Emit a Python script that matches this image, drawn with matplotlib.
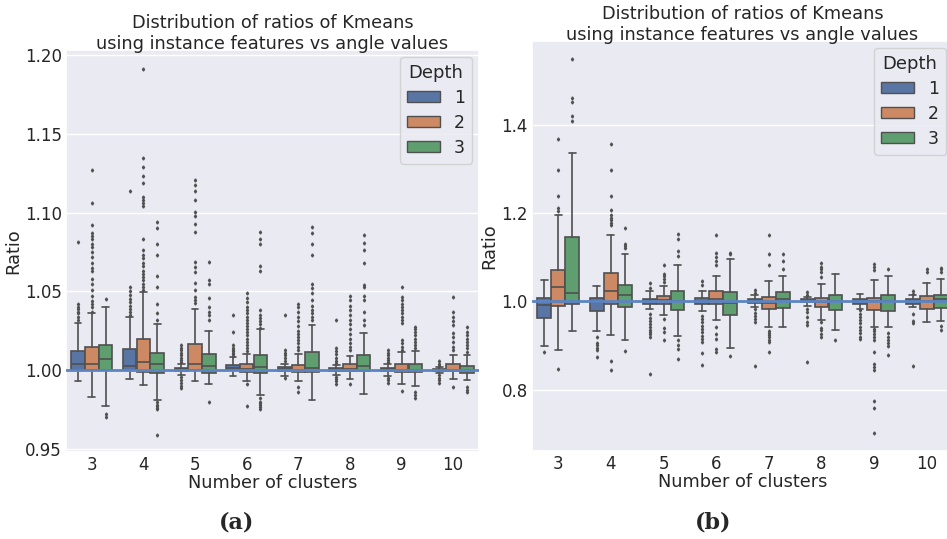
import matplotlib
matplotlib.use("Agg")
import matplotlib.pyplot as plt
from matplotlib.patches import Patch
import seaborn as sns

sns.set_theme(style="darkgrid")
plt.rcParams['font.family'] = ['DejaVu Sans']

clusters = [3, 4, 5, 6, 7, 8, 9, 10]
depths = [1, 2, 3]
colors = ['#5975a4', '#cc8963', '#5f9e6e']
line_col = '#505050'

# ---- panel (a): box statistics per cluster count, one entry per depth
a_q1 = [[1.000, 1.000, 1.000], [1.000, 0.999, 0.9983], [0.9993, 1.000, 0.998],
        [1.000, 0.999, 0.998], [0.9994, 0.9985, 0.9987], [0.9992, 0.9994, 0.9994],
        [0.9994, 0.9989, 0.9985], [0.9994, 0.9992, 0.998]]
a_med = [[1.004, 1.004, 1.0072], [1.0023, 1.0049, 1.004], [1.0005, 1.0038, 1.0023],
         [1.0013, 1.001, 1.0017], [1.0005, 1.0002, 1.0015], [1.000, 1.0004, 1.0028],
         [1.0004, 1.000, 1.0002], [1.000, 1.000, 1.0003]]
a_q3 = [[1.0123, 1.0148, 1.016], [1.0134, 1.020, 1.011], [1.0015, 1.0163, 1.0104],
        [1.003, 1.0042, 1.0093], [1.0017, 1.003, 1.0116], [1.0011, 1.0036, 1.0093],
        [1.0013, 1.0042, 1.0038], [1.0008, 1.0036, 1.0025]]
a_lo = [[0.993, 0.983, 0.977], [0.9943, 0.9903, 0.981], [0.9968, 0.9934, 0.991],
        [0.996, 0.9934, 0.9843], [0.9962, 0.993, 0.981], [0.9968, 0.9945, 0.9846],
        [0.9962, 0.9915, 0.9902], [0.998, 0.9945, 0.9937]]
a_hi = [[1.030, 1.036, 1.040], [1.0335, 1.0497, 1.0294], [1.004, 1.039, 1.0248],
        [1.0081, 1.010, 1.0258], [1.0042, 1.010, 1.0286], [1.0032, 1.009, 1.0233],
        [1.0038, 1.0117, 1.0123], [1.0021, 1.0095, 1.0095]]
a_fliers = [
    [[1.032, 1.034, 1.036, 1.037, 1.039, 1.040, 1.042, 1.0815],
     [1.037, 1.040, 1.042, 1.044, 1.047, 1.051, 1.055, 1.058, 1.063, 1.065, 1.068,
      1.072, 1.075, 1.078, 1.080, 1.083, 1.085, 1.087, 1.092, 1.106, 1.127],
     [0.970, 0.972, 1.045]],
    [[1.035, 1.037, 1.039, 1.041, 1.043, 1.045, 1.048, 1.050, 1.053, 1.114],
     [1.051, 1.053, 1.055, 1.057, 1.059, 1.061, 1.063, 1.066, 1.068, 1.071, 1.073,
      1.076, 1.083, 1.104, 1.106, 1.108, 1.110, 1.119, 1.123, 1.129, 1.135, 1.191],
     [0.959, 0.975, 0.976, 0.977, 0.978, 0.980, 1.032, 1.036, 1.042, 1.0525, 1.060,
      1.073, 1.080, 1.090, 1.094]],
    [[0.9886, 0.990, 0.992, 0.994, 0.9955, 1.005, 1.0065, 1.008, 1.0095, 1.011,
      1.0125, 1.014, 1.016],
     [1.0424, 1.0445, 1.0466, 1.0508, 1.0555, 1.0625, 1.0656, 1.0688, 1.0879, 1.0928,
      1.098, 1.1006, 1.108, 1.114, 1.1175, 1.1207],
     [0.9795, 1.032, 1.035, 1.037, 1.040, 1.046, 1.055, 1.057, 1.0688]],
    [[1.009, 1.010, 1.011, 1.012, 1.013, 1.014, 1.016, 1.024, 1.035],
     [0.977, 0.9915, 1.012, 1.014, 1.016, 1.018, 1.020, 1.022, 1.024, 1.026, 1.028,
      1.030, 1.032, 1.034, 1.036, 1.038, 1.040, 1.043, 1.046, 1.049],
     [0.975, 0.9765, 0.978, 0.979, 0.980, 0.982, 1.027, 1.029, 1.031, 1.033, 1.035,
      1.038, 1.063, 1.066, 1.080, 1.083, 1.088]],
    [[0.995, 1.006, 1.008, 1.0095, 1.011, 1.0127, 1.035],
     [0.986, 0.989, 1.0127, 1.015, 1.017, 1.019, 1.021, 1.023, 1.025, 1.028, 1.031,
      1.034, 1.037, 1.040, 1.042],
     [1.032, 1.034, 1.036, 1.038, 1.041, 1.0445, 1.049, 1.052, 1.055, 1.073, 1.080,
      1.087, 1.091]],
    [[0.9915, 0.993, 0.9945, 0.9958, 1.0045, 1.006, 1.008, 1.010, 1.012, 1.014, 1.032],
     [0.991, 1.0127, 1.015, 1.017, 1.020, 1.023, 1.026, 1.029, 1.032, 1.035, 1.038,
      1.041, 1.0445, 1.047],
     [1.0286, 1.032, 1.0367, 1.0445, 1.047, 1.0525, 1.054, 1.068, 1.076, 1.081, 1.086]],
    [[0.992, 0.9935, 0.995, 1.005, 1.0065, 1.008, 1.0095, 1.011, 1.0127],
     [0.9867, 1.0127, 1.015, 1.017, 1.019, 1.030, 1.032, 1.034, 1.036, 1.038, 1.040,
      1.042, 1.0445, 1.0466, 1.053],
     [0.982, 0.984, 0.986, 1.014, 1.016, 1.018, 1.020, 1.022, 1.024, 1.026, 1.0275]],
    [[0.992, 0.9935, 0.995, 0.997, 1.0025, 1.004, 1.006],
     [0.9894, 1.0127, 1.015, 1.018, 1.021, 1.0233, 1.0286, 1.031, 1.034, 1.037, 1.0466],
     [0.986, 0.9875, 0.989, 1.0117, 1.014, 1.016, 1.018, 1.020, 1.022, 1.0245, 1.0275]],
]

# ---- panel (b)
b_q1 = [[0.963, 0.9894, 0.9947], [0.9774, 0.993, 0.9864], [0.9947, 0.9932, 0.981],
        [0.994, 0.9947, 0.969], [0.997, 0.9826, 0.9857], [0.9977, 0.9864, 0.980],
        [0.994, 0.9796, 0.979], [0.9947, 0.9834, 0.9857]]
b_med = [[0.9925, 1.0325, 1.0197], [0.9977, 1.0226, 1.013], [1.002, 1.0038, 1.0007],
         [1.0015, 1.0045, 0.9955], [1.000, 0.997, 1.0045], [1.000, 0.9977, 1.000],
         [1.000, 1.000, 1.000], [1.000, 1.000, 1.0045]]
b_q3 = [[1.0068, 1.0717, 1.1456], [1.0083, 1.064, 1.036], [1.006, 1.012, 1.024],
        [1.0083, 1.024, 1.022], [1.005, 1.0098, 1.021], [1.0045, 1.0083, 1.013],
        [1.004, 1.0083, 1.014], [1.0045, 1.012, 1.0136]]
b_lo = [[0.899, 0.889, 0.933], [0.932, 0.924, 0.913], [0.982, 0.969, 0.921],
        [0.979, 0.958, 0.894], [0.9864, 0.941, 0.941], [0.9887, 0.957, 0.936],
        [0.9826, 0.942, 0.942], [0.988, 0.952, 0.956]]
b_hi = [[1.049, 1.195, 1.3366], [1.0355, 1.151, 1.108], [1.0226, 1.035, 1.081],
        [1.0234, 1.056, 1.095], [1.015, 1.046, 1.058], [1.0098, 1.038, 1.0626],
        [1.017, 1.048, 1.056], [1.014, 1.042, 1.051]]
b_fliers = [
    [[0.884], [0.846, 1.205, 1.21, 1.238, 1.298, 1.368],
     [1.409, 1.419, 1.452, 1.461, 1.548]],
    [[0.874, 0.89, 0.895, 0.900, 0.905, 0.919],
     [0.845, 0.864, 1.172, 1.178, 1.183, 1.188, 1.195, 1.206, 1.238, 1.298, 1.355],
     [0.887, 1.12, 1.125, 1.13, 1.165]],
    [[0.835, 0.919, 0.925, 0.93, 0.936, 0.942, 0.948, 0.955, 0.962, 0.972, 1.029, 1.041],
     [0.913, 0.93, 0.94, 0.96, 1.044, 1.05, 1.056, 1.062, 1.081],
     [0.870, 0.893, 0.9, 0.912, 1.102, 1.114, 1.14, 1.153]],
    [[0.855, 0.882, 0.908, 0.915, 0.922, 0.93, 0.938, 0.945, 0.952, 0.96, 0.967,
      1.036, 1.046],
     [0.885, 0.893, 0.915, 0.925, 0.942, 1.081, 1.092, 1.1, 1.109, 1.151],
     [0.876, 1.107, 1.109]],
    [[0.854, 0.953, 0.96, 0.967, 0.973, 0.983, 1.019, 1.025],
     [0.885, 0.908, 0.913, 0.918, 0.923, 0.928, 0.933, 1.083, 1.106, 1.151],
     [1.072, 1.0906, 1.106]],
    [[0.862, 0.946, 0.952, 0.965, 0.975, 0.983, 1.015, 1.02],
     [0.919, 0.925, 0.935, 0.94, 0.953, 1.054, 1.066, 1.072, 1.078, 1.087],
     [0.913]],
    [[0.914, 0.92, 0.928, 0.935, 0.942, 0.95, 0.958, 0.965, 0.972, 0.98],
     [0.702, 0.759, 0.774, 0.844, 0.852, 0.859, 0.885, 0.912, 0.918, 0.925, 0.932,
      0.938, 1.07, 1.078, 1.085],
     [0.879, 0.899, 0.905, 0.912, 0.919, 0.927, 1.074]],
    [[0.853, 0.951, 0.955, 0.972, 1.017, 1.024],
     [1.066, 1.072],
     [0.936, 0.944, 1.066, 1.072, 1.075]],
]

title = "Distribution of ratios of Kmeans\nusing instance features vs angle values"


def draw_panel(ax, q1, med, q3, lo, hi, fliers, ylim):
    w = 0.8 / 3
    for di in range(3):
        stats = []
        pos = []
        for gi in range(len(clusters)):
            stats.append(dict(q1=q1[gi][di], med=med[gi][di], q3=q3[gi][di],
                              whislo=lo[gi][di], whishi=hi[gi][di],
                              fliers=fliers[gi][di]))
            pos.append(gi + (di - 1) * w)
        ax.bxp(stats, positions=pos, widths=w * 0.98, patch_artist=True,
               manage_ticks=False,
               boxprops=dict(facecolor=colors[di], edgecolor=line_col, linewidth=1.2),
               medianprops=dict(color=line_col, linewidth=1.2),
               whiskerprops=dict(color=line_col, linewidth=1.2),
               capprops=dict(color=line_col, linewidth=1.2),
               flierprops=dict(marker='d', markersize=1.6, markerfacecolor=line_col,
                               markeredgecolor=line_col, linestyle='none'))
    ax.axhline(1.0, color='#5b84c4', linewidth=2, zorder=5)
    ax.set_xticks(range(len(clusters)))
    ax.set_xticklabels([str(c) for c in clusters])
    ax.set_xlim(-0.5, len(clusters) - 0.5)
    ax.set_ylim(*ylim)
    ax.grid(axis='x', visible=False)
    ax.tick_params(labelsize=12, length=0, pad=3)
    ax.set_xlabel("Number of clusters", fontsize=12.8, labelpad=0)
    ax.set_ylabel("Ratio", fontsize=12.8, labelpad=2)
    ax.set_title(title, fontsize=12.8, pad=1)
    handles = [Patch(facecolor=colors[i], edgecolor=line_col, label=str(d))
               for i, d in enumerate(depths)]
    ax.legend(handles=handles, title="Depth", loc='upper right', fontsize=12.5,
              title_fontsize=13, labelspacing=0.4, handlelength=1.9,
              handleheight=0.6, borderaxespad=0.4)


fig = plt.figure(figsize=(9.47, 5.39), dpi=100)
ax1 = fig.add_axes([66 / 947, 87 / 539, 413 / 947, 402 / 539])
ax2 = fig.add_axes([532 / 947, 88 / 539, 421 / 947, 410 / 539])

draw_panel(ax1, a_q1, a_med, a_q3, a_lo, a_hi, a_fliers, (0.948, 1.2033))
draw_panel(ax2, b_q1, b_med, b_q3, b_lo, b_hi, b_fliers, (0.661, 1.589))
ax1.yaxis.set_major_formatter(matplotlib.ticker.FormatStrFormatter('%.2f'))
ax2.yaxis.set_major_formatter(matplotlib.ticker.FormatStrFormatter('%.1f'))

fig.text(237 / 947, 1 - 522 / 539, '(a)', ha='center', va='center', fontsize=16,
         family='DejaVu Serif', fontweight='bold')
fig.text(713 / 947, 1 - 522 / 539, '(b)', ha='center', va='center', fontsize=16,
         family='DejaVu Serif', fontweight='bold')

fig.savefig("out.png", dpi=100)
